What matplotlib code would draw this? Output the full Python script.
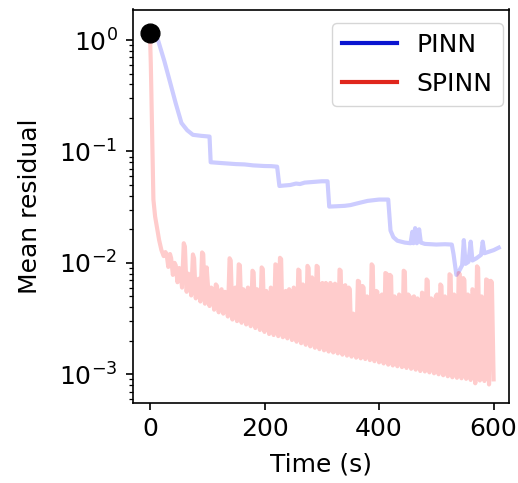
import matplotlib
matplotlib.use("Agg")
import matplotlib.pyplot as plt
from matplotlib.lines import Line2D

# ---------------- data ----------------
pinn_t = [0, 8, 14, 25, 35, 45, 55, 65, 75, 90, 104,
          106, 120, 135, 150, 165, 180, 200, 212, 222,
          226, 235, 245, 255, 262, 270, 280, 290, 300, 310,
          313, 325, 340, 350, 360, 370, 380, 390, 400, 410, 416,
          420, 425, 432, 445, 455, 458, 460, 463, 466, 470, 473, 480, 500, 515, 527,
          530, 535, 540, 545, 548, 551, 556, 560, 563, 570, 578, 581, 584, 590, 600, 609]
pinn_v = [1.15, 1.08, 1.0, 0.65, 0.42, 0.27, 0.18, 0.155, 0.141, 0.138, 0.136,
          0.080, 0.079, 0.078, 0.077, 0.0765, 0.075, 0.074, 0.0738, 0.073,
          0.049, 0.0495, 0.050, 0.0515, 0.051, 0.0525, 0.053, 0.0535, 0.054, 0.054,
          0.032, 0.0322, 0.0325, 0.033, 0.034, 0.035, 0.036, 0.0365, 0.037, 0.037, 0.037,
          0.0195, 0.017, 0.0158, 0.0152, 0.015, 0.019, 0.015, 0.0205, 0.015, 0.020, 0.0152, 0.0148, 0.0146, 0.0147, 0.0146,
          0.012, 0.0078, 0.0085, 0.0095, 0.016, 0.0098, 0.0102, 0.0155, 0.0105, 0.011, 0.0118, 0.0155, 0.0122, 0.0125, 0.013, 0.0137]

# SPINN: initial drop, then a fast oscillation between a low (trough) and two
# successive high samples (3 s and 5 s after each trough)
spinn_head_t = [0, 1.5, 3.5, 6, 9, 12, 16, 20]
spinn_head_v = [1.15, 0.6, 0.18, 0.037, 0.026, 0.021, 0.016, 0.013]

spinn_low_t = [24, 32, 40, 48, 56, 64, 72, 80, 88, 96, 104, 112, 120, 128, 136, 144,
               152, 160, 168, 176, 184, 192, 200, 208, 216, 224, 232, 240, 248, 256,
               264, 272, 280, 288, 296, 304, 312, 320, 328, 336, 344, 352, 360, 368,
               376, 384, 392, 400, 408, 416, 424, 432, 440, 448, 456, 464, 472, 480,
               488, 496, 504, 512, 520, 528, 536, 544, 552, 560, 568, 576, 584, 592, 600]
spinn_low_v = [0.0115, 0.0092, 0.0078, 0.0067, 0.0060, 0.0055, 0.0051, 0.0048, 0.0045,
               0.0043, 0.0041, 0.0038, 0.0036, 0.0035, 0.0033, 0.0031, 0.0030, 0.0029,
               0.0028, 0.0027, 0.0026, 0.0025, 0.0024, 0.0023, 0.00225, 0.0022, 0.00215,
               0.0021, 0.00203, 0.00196, 0.0019, 0.00184, 0.00178, 0.00173, 0.00168,
               0.00164, 0.0016, 0.00157, 0.00154, 0.0015, 0.00147, 0.00144, 0.00141,
               0.00139, 0.00137, 0.00134, 0.00131, 0.00128, 0.00125, 0.00122, 0.0012,
               0.00118, 0.00116, 0.00114, 0.00112, 0.0011, 0.00107, 0.00106, 0.00104,
               0.00102, 0.0010, 0.00098, 0.00096, 0.00094, 0.00093, 0.00092, 0.00091,
               0.00089, 0.00083, 0.00088, 0.00087, 0.00081, 0.0009]
spinn_high_a = [0.0125, 0.0120, 0.0100, 0.0090, 0.0150, 0.0080, 0.0119, 0.0070, 0.0124,
                0.0091, 0.0060, 0.0064, 0.0055, 0.0055, 0.0110, 0.0056, 0.0097, 0.0058,
                0.0060, 0.0085, 0.0058, 0.0091, 0.0056, 0.0060, 0.0097, 0.0111, 0.0054,
                0.0058, 0.0060, 0.0087, 0.0064, 0.0094, 0.0074, 0.0094, 0.0064, 0.0066,
                0.0066, 0.0065, 0.0087, 0.0062, 0.0060, 0.0035, 0.0069, 0.0062, 0.0050,
                0.0097, 0.0056, 0.0050, 0.0081, 0.0078, 0.0050, 0.0052, 0.0085, 0.0052,
                0.0049, 0.0048, 0.0054, 0.0071, 0.0048, 0.0050, 0.0064, 0.0050, 0.0079,
                0.0052, 0.0081, 0.0073, 0.0052, 0.0058, 0.0093, 0.0050, 0.0071, 0.0069]
spinn_high_b = [0.0120, 0.0110, 0.0095, 0.0085, 0.0140, 0.0075, 0.0110, 0.0072, 0.0120,
                0.0065, 0.0058, 0.0062, 0.0058, 0.0052, 0.0105, 0.0060, 0.0095, 0.0055,
                0.0056, 0.0082, 0.0055, 0.0088, 0.0052, 0.0058, 0.0095, 0.0108, 0.0056,
                0.0054, 0.0058, 0.0085, 0.0062, 0.0090, 0.0066, 0.0092, 0.0066, 0.0064,
                0.0062, 0.0063, 0.0085, 0.0063, 0.0058, 0.0030, 0.0068, 0.0060, 0.0048,
                0.0094, 0.0055, 0.0052, 0.0080, 0.0076, 0.0048, 0.0050, 0.0083, 0.0050,
                0.0050, 0.0046, 0.0053, 0.0069, 0.0046, 0.0052, 0.0062, 0.0048, 0.0077,
                0.0050, 0.0079, 0.0070, 0.0050, 0.0056, 0.0090, 0.0048, 0.0070, 0.0067]
high_offsets = [3, 5]

start_t = [0]
start_v = [1.15]

x_ticks = [0, 200, 400, 600]
labels = ["PINN", "SPINN"]

# assemble the SPINN trace from the listed samples
spinn_t = list(spinn_head_t)
spinn_v = list(spinn_head_v)
for i, t0 in enumerate(spinn_low_t):
    spinn_t.append(t0)
    spinn_v.append(spinn_low_v[i])
    if i < len(spinn_high_a):
        spinn_t += [t0 + high_offsets[0], t0 + high_offsets[1]]
        spinn_v += [spinn_high_a[i], spinn_high_b[i]]

# ---------------- figure ----------------
plt.rcParams['font.family'] = ['DejaVu Sans']
fs = 18
fig = plt.figure(figsize=(5.18, 4.83), dpi=100)
ax = fig.add_axes([132.5 / 518, (483 - 402.5) / 483, 376 / 518, 393 / 483])

ax.plot(pinn_t, pinn_v, color='blue', alpha=0.2, lw=3)
ax.plot(spinn_t, spinn_v, color='red', alpha=0.2, lw=3)
ax.plot(start_t, start_v, 'o', color='black', ms=13.5, zorder=5)

ax.set_yscale('log')
ax.set_xlim(-30.5, 626)
ax.set_ylim(5.58e-4, 1.88)
ax.set_xticks(x_ticks)

ax.set_xlabel("Time (s)", fontsize=fs, labelpad=8)
ax.set_ylabel("Mean residual", fontsize=fs, labelpad=12)
ax.tick_params(axis='both', which='major', labelsize=fs, length=5.25, width=1.2, pad=5.5)
ax.tick_params(axis='both', which='minor', length=3, width=0.9)
for s in ax.spines.values():
    s.set_linewidth(1.2)

handles = [Line2D([0], [0], color='#0a14d0', lw=3),
           Line2D([0], [0], color='#e0261c', lw=3)]
ax.legend(handles, labels, loc='upper right', bbox_to_anchor=(0.985, 0.966),
          borderaxespad=0, fontsize=fs, handlelength=2.2, labelspacing=0.6)

fig.savefig("out.png", dpi=100)
